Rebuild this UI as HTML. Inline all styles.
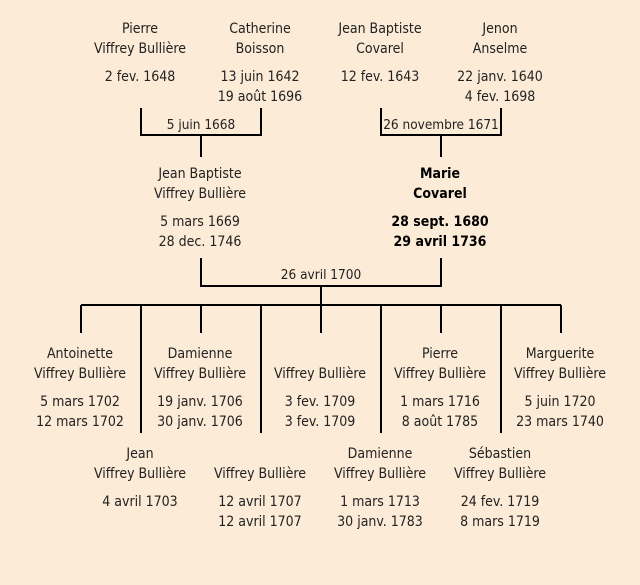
<!DOCTYPE html>
<html><head><meta charset="utf-8"><style>
body{margin:0;width:640px;height:585px;background:#fcebd7;position:relative;overflow:hidden;font-family:"DejaVu Sans Condensed","Liberation Sans",sans-serif;font-size:14px;color:#222}
.t{position:absolute;width:160px;text-align:center;line-height:20px;white-space:nowrap;margin-top:2px}
.m{font-size:13.5px;margin-top:0}
.b{font-weight:bold;color:#000}
svg{position:absolute;left:0;top:0}
</style></head><body>
<svg width="640" height="585" stroke="#000" stroke-width="2" fill="none">
<path d="M141 108V135H261V108M201 135V157"/>
<path d="M381 108V135H501V108M441 135V157"/>
<path d="M201 258V286H441V258M321 286V305"/>
<path d="M81 305H561"/>
<path d="M81 305V333M201 305V333M321 305V333M441 305V333M561 305V333"/>
<path d="M141 305V433M261 305V433M381 305V433M501 305V433"/>
</svg>
<div class="t" style="left:60px;top:17px">Pierre<br>Viffrey Bullière</div>
<div class="t" style="left:60px;top:65px">2 fev. 1648</div>
<div class="t" style="left:180px;top:17px">Catherine<br>Boisson</div>
<div class="t" style="left:180px;top:65px">13 juin 1642<br>19 août 1696</div>
<div class="t" style="left:300px;top:17px">Jean Baptiste<br>Covarel</div>
<div class="t" style="left:300px;top:65px">12 fev. 1643</div>
<div class="t" style="left:420px;top:17px">Jenon<br>Anselme</div>
<div class="t" style="left:420px;top:65px">22 janv. 1640<br>4 fev. 1698</div>
<div class="t m" style="left:121px;top:115px">5 juin 1668</div>
<div class="t m" style="left:361px;top:115px">26 novembre 1671</div>
<div class="t" style="left:120px;top:162px">Jean Baptiste<br>Viffrey Bullière</div>
<div class="t" style="left:120px;top:210px">5 mars 1669<br>28 dec. 1746</div>
<div class="t b" style="left:360px;top:162px">Marie<br>Covarel</div>
<div class="t b" style="left:360px;top:210px">28 sept. 1680<br>29 avril 1736</div>
<div class="t m" style="left:241px;top:265px">26 avril 1700</div>
<div class="t" style="left:0px;top:342px">Antoinette<br>Viffrey Bullière</div>
<div class="t" style="left:0px;top:390px">5 mars 1702<br>12 mars 1702</div>
<div class="t" style="left:120px;top:342px">Damienne<br>Viffrey Bullière</div>
<div class="t" style="left:120px;top:390px">19 janv. 1706<br>30 janv. 1706</div>
<div class="t" style="left:240px;top:362px">Viffrey Bullière</div>
<div class="t" style="left:240px;top:390px">3 fev. 1709<br>3 fev. 1709</div>
<div class="t" style="left:360px;top:342px">Pierre<br>Viffrey Bullière</div>
<div class="t" style="left:360px;top:390px">1 mars 1716<br>8 août 1785</div>
<div class="t" style="left:480px;top:342px">Marguerite<br>Viffrey Bullière</div>
<div class="t" style="left:480px;top:390px">5 juin 1720<br>23 mars 1740</div>
<div class="t" style="left:60px;top:442px">Jean<br>Viffrey Bullière</div>
<div class="t" style="left:60px;top:490px">4 avril 1703</div>
<div class="t" style="left:180px;top:462px">Viffrey Bullière</div>
<div class="t" style="left:180px;top:490px">12 avril 1707<br>12 avril 1707</div>
<div class="t" style="left:300px;top:442px">Damienne<br>Viffrey Bullière</div>
<div class="t" style="left:300px;top:490px">1 mars 1713<br>30 janv. 1783</div>
<div class="t" style="left:420px;top:442px">Sébastien<br>Viffrey Bullière</div>
<div class="t" style="left:420px;top:490px">24 fev. 1719<br>8 mars 1719</div>
</body></html>
